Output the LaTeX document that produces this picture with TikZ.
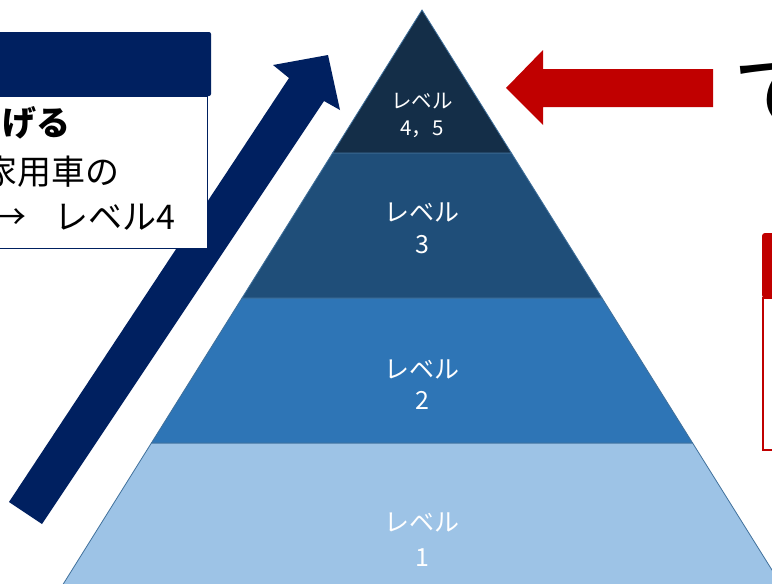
\documentclass[tikz,border=0pt]{standalone}
\usepackage{fontspec}
\newfontfamily\jp{Noto Sans CJK JP}
\definecolor{navy}{HTML}{002060}
\definecolor{redc}{HTML}{C00000}
\definecolor{lvA}{HTML}{142E48}
\definecolor{lvB}{HTML}{1F4E79}
\definecolor{lvC}{HTML}{2E75B6}
\definecolor{lvD}{HTML}{9DC3E6}
\definecolor{edgec}{HTML}{41719C}
\tikzset{
  band/.style={draw=edgec, line width=0.8pt},
  lvl/.style={align=center, text=white, inner sep=0pt},
  boxtext/.style={anchor=east, inner sep=0pt, text=black},
}
\begin{document}
\begin{tikzpicture}[x=1pt,y=-1pt]
\useasboundingbox (0,0) rectangle (772,584);
\clip (0,0) rectangle (772,584);
\fill[white] (0,0) rectangle (772,584);
% pyramid bands
\path[band, fill=lvD] (151.4,443) -- (692.6,443) -- (790.75,600) -- (53.25,600) -- cycle;
\path[band, fill=lvC] (242,298) -- (602,298) -- (692.6,443) -- (151.4,443) -- cycle;
\path[band, fill=lvB] (332.6,153) -- (511.4,153) -- (602,298) -- (242,298) -- cycle;
\path[band, fill=lvA] (422,10) -- (511.4,153) -- (332.6,153) -- cycle;
% pyramid labels
\node[lvl, font=\jp\fontsize{20.5}{27}\selectfont] (l45) at (422,115.5) {レベル\\4，5};
\node[lvl, font=\jp\fontsize{25}{32}\selectfont] (l3) at (422,228) {レベル\\3};
\node[lvl, font=\jp\fontsize{25}{31}\selectfont] (l2) at (422,385) {レベル\\2};
\node[lvl, font=\jp\fontsize{25}{35}\selectfont] (l1) at (422,539.5) {レベル\\1};
% blue arrow
\fill[navy] (9,502) -- (289,78) -- (273,65) -- (328,55) -- (340,110) -- (324,101) -- (42,524) -- cycle;
% left box
\fill[navy, rounded corners=2pt] (-5,32) rectangle (211,96);
\filldraw[fill=white, draw=navy, line width=1pt] (-5,96) rectangle (207,248);
\node[boxtext, font=\jp\bfseries\fontsize{34}{34}\selectfont] (t1) at (71,123) {げる};
\node[boxtext, font=\jp\fontsize{34}{34}\selectfont] (t2) at (120,172) {家用車の};
\node[boxtext, font=\jp\fontsize{34}{34}\selectfont] (t3) at (176,217) {→\hspace{28pt}レベル4};
% red arrow
\fill[redc] (506,88) -- (543,50) -- (543,69) -- (713,69) -- (713,107) -- (543,107) -- (543,125) -- cycle;
% right title char
\node[anchor=west, inner sep=0pt, font=\jp\fontsize{92}{92}\selectfont] (tr) at (732,95) {て};
% right red box
\fill[redc, rounded corners=3pt] (762,233) rectangle (790,298);
\draw[redc, line width=1.5pt] (790,298) -- (763,298) -- (763,450) -- (790,450);
\end{tikzpicture}
\end{document}
